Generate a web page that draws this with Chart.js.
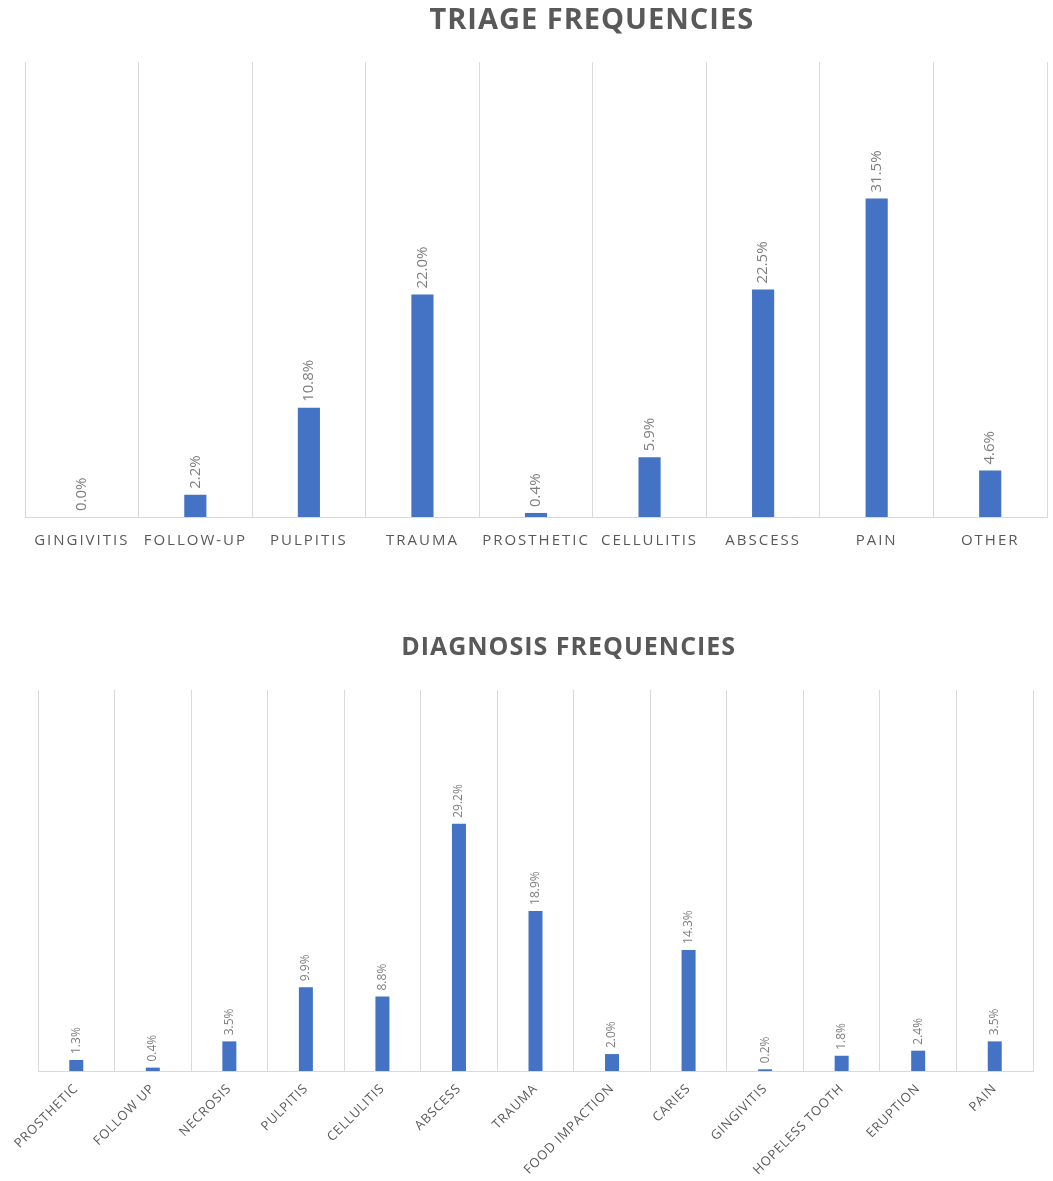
<!DOCTYPE html>
<html lang="en">
<head>
<meta charset="UTF-8" />
<title>Triage and diagnosis frequencies</title>
<style>
  body { margin: 0; background: #fff; }
  .block { position: absolute; left: 0; width: 1053px; }
  #triageBlock { top: 0; height: 560px; }
  #diagBlock { top: 600px; height: 581px; }
</style>
</head>
<body>
<div class="block" id="triageBlock"><canvas id="triageChart"></canvas></div>
<div class="block" id="diagBlock"><canvas id="diagChart"></canvas></div>

<script src="https://cdn.jsdelivr.net/npm/chart.js"></script>
<script>
const triageLabels = ["GINGIVITIS", "FOLLOW-UP", "PULPITIS", "TRAUMA", "PROSTHETIC", "CELLULITIS", "ABSCESS", "PAIN", "OTHER"];
const triageValues = [0.0, 2.2, 10.8, 22.0, 0.4, 5.9, 22.5, 31.5, 4.6];

const diagnosisLabels = ["PROSTHETIC", "FOLLOW UP", "NECROSIS", "PULPITIS", "CELLULITIS", "ABSCESS", "TRAUMA",
  "FOOD IMPACTION", "CARIES", "GINGIVITIS", "HOPELESS TOOTH", "ERUPTION", "PAIN"];
const diagnosisValues = [1.3, 0.4, 3.5, 9.9, 8.8, 29.2, 18.9, 2.0, 14.3, 0.2, 1.8, 2.4, 3.5];

const barColor = "#4472C4";
const gridColor = "#d9d9d9";
const textColor = "#595959";
const labelColor = "#7f7f7f";

// letter spacing for tick labels, value labels rotated above bars, and the title
const excelLook = {
  id: "excelLook",
  beforeDraw(chart, args, opts) {
    chart.ctx.letterSpacing = opts.tickSpacing;
  },
  afterDatasetsDraw(chart, args, opts) {
    const ctx = chart.ctx;
    const meta = chart.getDatasetMeta(0);
    const values = chart.data.datasets[0].data;
    ctx.save();
    ctx.letterSpacing = "0px";
    ctx.font = opts.labelSize + "px 'Open Sans'";
    ctx.fillStyle = labelColor;
    ctx.textAlign = "left";
    ctx.textBaseline = "middle";
    meta.data.forEach((bar, i) => {
      ctx.save();
      ctx.translate(bar.x, bar.y - 6);
      ctx.rotate(-Math.PI / 2);
      ctx.fillText(values[i].toFixed(1) + "%", 0, 0);
      ctx.restore();
    });
    ctx.restore();
  },
  afterDraw(chart, args, opts) {
    const ctx = chart.ctx;
    ctx.save();
    ctx.letterSpacing = opts.titleSpacing;
    ctx.font = "bold " + opts.titleSize + "px 'Open Sans'";
    ctx.fillStyle = textColor;
    ctx.textAlign = "center";
    ctx.textBaseline = "middle";
    ctx.fillText(opts.title, chart.width * opts.titleX, opts.titleY);
    ctx.restore();
  }
};

function makeChart(id, labels, values, cfg) {
  return new Chart(document.getElementById(id), {
    type: "bar",
    data: {
      labels: labels,
      datasets: [{
        data: values,
        backgroundColor: barColor,
        borderWidth: 0,
        categoryPercentage: 1,
        barPercentage: cfg.barPct
      }]
    },
    options: {
      responsive: true,
      maintainAspectRatio: false,
      animation: false,
      layout: { padding: cfg.padding },
      plugins: {
        legend: { display: false },
        tooltip: { enabled: false },
        title: { display: false },
        excelLook: cfg.look
      },
      scales: {
        x: {
          grid: { color: gridColor, drawTicks: false, offset: true },
          border: { color: gridColor },
          ticks: {
            color: textColor,
            font: { family: "'Open Sans'", size: cfg.tickSize },
            padding: cfg.tickPad,
            autoSkip: false,
            minRotation: cfg.rotation,
            maxRotation: cfg.rotation
          },
          afterFit(scale) { scale.height = cfg.axisHeight; }
        },
        y: { display: false, min: 0, max: 45 }
      }
    },
    plugins: [excelLook]
  });
}

makeChart("triageChart", triageLabels, triageValues, {
  barPct: 0.195,
  padding: { top: 62, left: 25, right: 6, bottom: 0 },
  tickSize: 15, tickPad: 15, rotation: 0, axisHeight: 43,
  look: { tickSpacing: "2px", labelSize: 15, title: "TRIAGE FREQUENCIES",
          titleSize: 29, titleSpacing: "1px", titleX: 0.562, titleY: 21 }
});

makeChart("diagChart", diagnosisLabels, diagnosisValues, {
  barPct: 0.183,
  padding: { top: 90, left: 38, right: 20, bottom: 0 },
  tickSize: 13, tickPad: 10, rotation: 45, axisHeight: 110,
  look: { tickSpacing: "0.8px", labelSize: 12, title: "DIAGNOSIS FREQUENCIES",
          titleSize: 25, titleSpacing: "1px", titleX: 0.540, titleY: 48 }
});
</script>
</body>
</html>
